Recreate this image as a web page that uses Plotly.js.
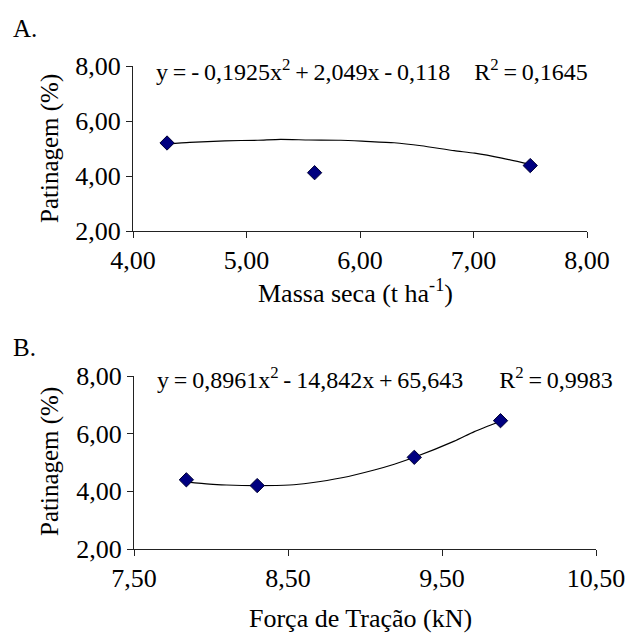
<!DOCTYPE html>
<html>
<head>
<meta charset="utf-8">
<script src="https://cdn.plot.ly/plotly-3.0.1.min.js"></script>
<style>html,body{margin:0;padding:0;background:#fff;}#chart{width:631px;height:635px;}</style>
</head>
<body>
<div id="chart"></div>
<script>
// Panel A: Massa seca vs Patinagem
var massaSeca = [4.30, 5.60, 7.50];
var patinagemA = [5.20, 4.12, 4.38];
var trendAx = [4.30, 4.50, 4.81, 5.10, 5.30, 5.55, 5.83, 6.05, 6.30, 6.54, 6.83, 7.01, 7.25, 7.50];
var trendAy = [5.16, 5.22, 5.28, 5.30, 5.33, 5.31, 5.30, 5.26, 5.21, 5.10, 4.92, 4.83, 4.65, 4.42];
var xTicksA = [4, 5, 6, 7, 8];

// Panel B: Força de Tração vs Patinagem
var forcaTracao = [7.84, 8.30, 9.32, 9.88];
var patinagemB = [4.40, 4.20, 5.18, 6.45];
var trendBx = [7.84, 7.99, 8.10, 8.30, 8.51, 8.64, 8.85, 9.06, 9.19, 9.32, 9.58, 9.71, 9.88];
var trendBy = [4.33, 4.25, 4.22, 4.20, 4.22, 4.29, 4.47, 4.74, 4.94, 5.18, 5.74, 6.07, 6.43];
var xTicksB = [7.5, 8.5, 9.5, 10.5];

var yTicks = [2, 4, 6, 8];

var eqA = 'y\u2009=\u2009-\u20090,1925x<sup>2</sup>\u2009+\u20092,049x\u2009-\u20090,118\u2003R<sup>2</sup>\u2009=\u20090,1645';
var eqB = 'y\u2009=\u20090,8961x<sup>2</sup>\u2009-\u200914,842x\u2009+\u200965,643\u2003\u2002R<sup>2</sup>\u2009=\u20090,9983';

var FONT = 'Liberation Serif';
var W = 631, H = 635;
function px(x){return x / W;}
function py(y){return 1 - y / H;}

var markerStyle = {symbol: 'diamond', size: 11, color: '#000080', line: {color: '#000033', width: 1}};

var traces = [
  {x: trendAx, y: trendAy, type: 'scatter', mode: 'lines', line: {color: '#000', width: 1.2, shape: 'spline', smoothing: 0.6}, xaxis: 'x', yaxis: 'y', hoverinfo: 'skip'},
  {x: massaSeca, y: patinagemA, type: 'scatter', mode: 'markers', marker: markerStyle, xaxis: 'x', yaxis: 'y'},
  {x: trendBx, y: trendBy, type: 'scatter', mode: 'lines', line: {color: '#000', width: 1.2, shape: 'spline', smoothing: 0.6}, xaxis: 'x2', yaxis: 'y2', hoverinfo: 'skip'},
  {x: forcaTracao, y: patinagemB, type: 'scatter', mode: 'markers', marker: markerStyle, xaxis: 'x2', yaxis: 'y2'}
];

var axisCommon = {
  showgrid: false, zeroline: false, showline: true, linecolor: '#222', linewidth: 1,
  ticks: 'outside', ticklen: 6, tickwidth: 1, tickcolor: '#222',
  tickfont: {family: FONT, size: 26, color: '#000'}, tickformat: '.2f', mirror: false
};

function ax(extra){ return Object.assign({}, axisCommon, extra); }

var layout = {
  width: W, height: H,
  margin: {l: 0, r: 0, t: 0, b: 0},
  paper_bgcolor: '#fff', plot_bgcolor: '#fff',
  showlegend: false,
  separators: ',.',
  font: {family: FONT, color: '#000'},
  xaxis: ax({domain: [px(133), px(587)], range: [4, 8], tickvals: xTicksA, anchor: 'y'}),
  yaxis: ax({domain: [py(231), py(66)], range: [2, 8], tickvals: yTicks, anchor: 'x'}),
  xaxis2: ax({domain: [px(134), px(596)], range: [7.5, 10.5], tickvals: xTicksB, anchor: 'y2'}),
  yaxis2: ax({domain: [py(549), py(376)], range: [2, 8], tickvals: yTicks, anchor: 'x2'}),
  annotations: [
    {text: 'A.', xref: 'paper', yref: 'paper', x: px(11), y: py(28), xanchor: 'left', yanchor: 'middle', showarrow: false, font: {family: FONT, size: 25}},
    {text: 'B.', xref: 'paper', yref: 'paper', x: px(11), y: py(347), xanchor: 'left', yanchor: 'middle', showarrow: false, font: {family: FONT, size: 25}},
    {text: eqA, xref: 'paper', yref: 'paper', x: px(154), y: py(70), xanchor: 'left', yanchor: 'middle', showarrow: false, font: {family: FONT, size: 24}},
    {text: eqB, xref: 'paper', yref: 'paper', x: px(155), y: py(378), xanchor: 'left', yanchor: 'middle', showarrow: false, font: {family: FONT, size: 24}},
    {text: 'Patinagem (%)', xref: 'paper', yref: 'paper', x: px(50), y: py(149), xanchor: 'center', yanchor: 'middle', textangle: -90, showarrow: false, font: {family: FONT, size: 25}},
    {text: 'Patinagem (%)', xref: 'paper', yref: 'paper', x: px(50), y: py(462), xanchor: 'center', yanchor: 'middle', textangle: -90, showarrow: false, font: {family: FONT, size: 25}},
    {text: 'Massa seca (t ha<sup>-1</sup>)', xref: 'paper', yref: 'paper', x: px(356), y: py(292), xanchor: 'center', yanchor: 'middle', showarrow: false, font: {family: FONT, size: 26}},
    {text: 'Força de Tração (kN)', xref: 'paper', yref: 'paper', x: px(360), y: py(618), xanchor: 'center', yanchor: 'middle', showarrow: false, font: {family: FONT, size: 26}}
  ]
};

Plotly.newPlot('chart', traces, layout, {displayModeBar: false, staticPlot: true});
</script>
</body>
</html>
